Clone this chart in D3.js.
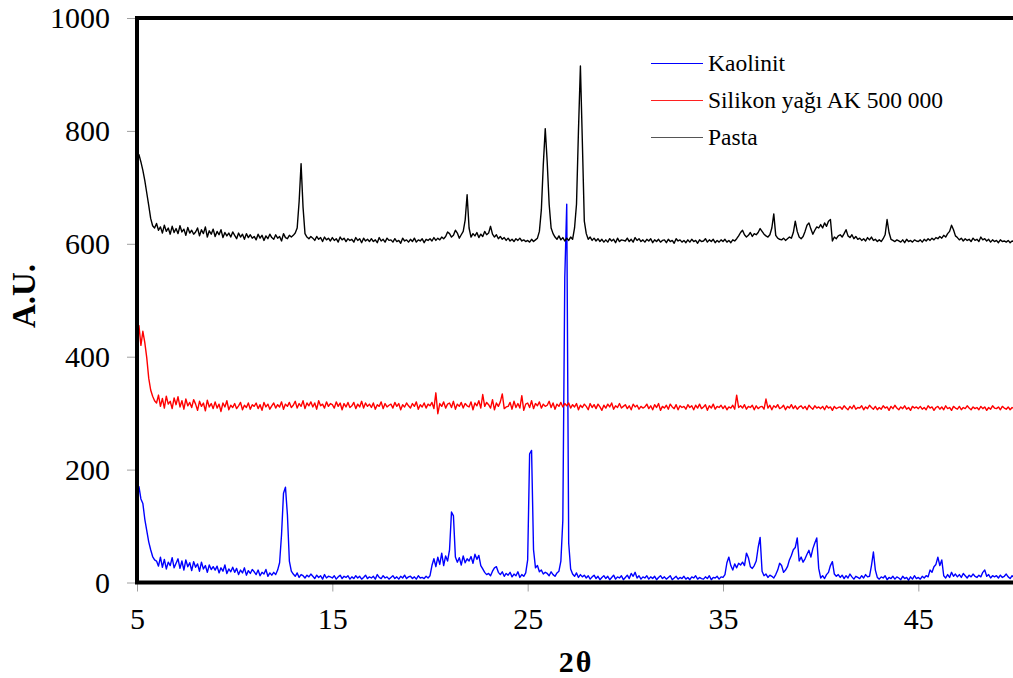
<!DOCTYPE html>
<html>
<head>
<meta charset="utf-8">
<script src="https://cdn.jsdelivr.net/npm/d3@7"></script>
<style>
  body { margin: 0; background: #fff; }
  text { font-family: "Liberation Serif", "Times New Roman", serif; fill: #000; }
</style>
</head>
<body>
<svg id="chart" width="1013" height="678"></svg>
<script>
// 2θ sampling, 0.1 deg steps
const twoTheta = [
  5,5.1,5.2,5.3,5.4,5.5,5.6,5.7,5.8,5.9, 6,6.1,6.2,6.3,6.4,6.5,6.6,6.7,6.8,6.9,
  7,7.1,7.2,7.3,7.4,7.5,7.6,7.7,7.8,7.9, 8,8.1,8.2,8.3,8.4,8.5,8.6,8.7,8.8,8.9,
  9,9.1,9.2,9.3,9.4,9.5,9.6,9.7,9.8,9.9, 10,10.1,10.2,10.3,10.4,10.5,10.6,10.7,10.8,10.9,
  11,11.1,11.2,11.3,11.4,11.5,11.6,11.7,11.8,11.9, 12,12.1,12.2,12.3,12.4,12.5,12.6,12.7,12.8,12.9,
  13,13.1,13.2,13.3,13.4,13.5,13.6,13.7,13.8,13.9, 14,14.1,14.2,14.3,14.4,14.5,14.6,14.7,14.8,14.9,
  15,15.1,15.2,15.3,15.4,15.5,15.6,15.7,15.8,15.9, 16,16.1,16.2,16.3,16.4,16.5,16.6,16.7,16.8,16.9,
  17,17.1,17.2,17.3,17.4,17.5,17.6,17.7,17.8,17.9, 18,18.1,18.2,18.3,18.4,18.5,18.6,18.7,18.8,18.9,
  19,19.1,19.2,19.3,19.4,19.5,19.6,19.7,19.8,19.9, 20,20.1,20.2,20.3,20.4,20.5,20.6,20.7,20.8,20.9,
  21,21.1,21.2,21.3,21.4,21.5,21.6,21.7,21.8,21.9, 22,22.1,22.2,22.3,22.4,22.5,22.6,22.7,22.8,22.9,
  23,23.1,23.2,23.3,23.4,23.5,23.6,23.7,23.8,23.9, 24,24.1,24.2,24.3,24.4,24.5,24.6,24.7,24.8,24.9,
  25,25.1,25.2,25.3,25.4,25.5,25.6,25.7,25.8,25.9, 26,26.1,26.2,26.3,26.4,26.5,26.6,26.7,26.8,26.9,
  27,27.1,27.2,27.3,27.4,27.5,27.6,27.7,27.8,27.9, 28,28.1,28.2,28.3,28.4,28.5,28.6,28.7,28.8,28.9,
  29,29.1,29.2,29.3,29.4,29.5,29.6,29.7,29.8,29.9, 30,30.1,30.2,30.3,30.4,30.5,30.6,30.7,30.8,30.9,
  31,31.1,31.2,31.3,31.4,31.5,31.6,31.7,31.8,31.9, 32,32.1,32.2,32.3,32.4,32.5,32.6,32.7,32.8,32.9,
  33,33.1,33.2,33.3,33.4,33.5,33.6,33.7,33.8,33.9, 34,34.1,34.2,34.3,34.4,34.5,34.6,34.7,34.8,34.9,
  35,35.1,35.2,35.3,35.4,35.5,35.6,35.7,35.8,35.9, 36,36.1,36.2,36.3,36.4,36.5,36.6,36.7,36.8,36.9,
  37,37.1,37.2,37.3,37.4,37.5,37.6,37.7,37.8,37.9, 38,38.1,38.2,38.3,38.4,38.5,38.6,38.7,38.8,38.9,
  39,39.1,39.2,39.3,39.4,39.5,39.6,39.7,39.8,39.9, 40,40.1,40.2,40.3,40.4,40.5,40.6,40.7,40.8,40.9,
  41,41.1,41.2,41.3,41.4,41.5,41.6,41.7,41.8,41.9, 42,42.1,42.2,42.3,42.4,42.5,42.6,42.7,42.8,42.9,
  43,43.1,43.2,43.3,43.4,43.5,43.6,43.7,43.8,43.9, 44,44.1,44.2,44.3,44.4,44.5,44.6,44.7,44.8,44.9,
  45,45.1,45.2,45.3,45.4,45.5,45.6,45.7,45.8,45.9, 46,46.1,46.2,46.3,46.4,46.5,46.6,46.7,46.8,46.9,
  47,47.1,47.2,47.3,47.4,47.5,47.6,47.7,47.8,47.9, 48,48.1,48.2,48.3,48.4,48.5,48.6,48.7,48.8,48.9,
  49,49.1,49.2,49.3,49.4,49.5,49.6,49.7,49.8,49.9, 50
];

// Kaolinit (blue)
const kaolinit = [
  162,170,148,140,112,92,72,58,46,40,   38,29,45,27,41,24,36,30,44,26,
  34,42,25,38,22,40,28,35,21,37,        27,33,20,36,24,30,18,31,23,28,
  22,29,17,26,20,31,16,24,19,27,        18,25,14,22,17,26,13,21,16,23,
  19,14,22,12,18,15,23,11,17,13,        18,14,22,35,85,158,169,120,38,20,
  15,11,17,9,14,12,8,13,10,15,          11,7,13,9,12,6,14,8,11,10,
  8,12,6,10,13,7,11,9,12,6,             10,7,12,8,11,6,9,13,7,10,
  8,11,6,14,9,7,12,8,10,6,              9,12,7,10,6,11,8,13,7,10,
  11,7,10,6,12,8,9,7,11,8,              12,30,42,28,45,32,52,30,47,38,
  58,125,118,45,36,44,31,47,35,42,      38,46,34,50,41,48,30,24,18,14,
  16,12,20,26,28,18,14,19,11,16,        13,18,10,15,12,19,9,14,11,17,
  40,228,234,58,26,30,19,22,15,18,      16,12,19,14,11,17,20,38,110,540,
  670,70,24,15,11,17,9,14,10,13,        8,12,6,10,13,7,11,5,9,12,
  7,11,5,9,13,6,10,8,12,5,              9,13,7,16,11,18,8,12,6,10,
  8,12,6,10,7,11,5,9,12,7,              10,6,9,12,5,8,11,6,9,7,
  11,6,9,5,10,8,12,6,9,7,               6,10,7,12,5,9,8,11,6,10,
  9,14,35,45,30,22,33,26,34,31,         36,30,52,44,28,25,30,38,62,80,
  20,12,15,9,13,11,8,14,22,34,          30,18,22,28,40,48,58,62,79,38,
  45,36,42,50,57,45,60,70,79,25,        8,12,7,14,18,30,37,15,11,14,
  9,13,7,12,8,15,10,6,11,9,             7,12,8,14,10,11,30,54,22,9,
  6,10,8,12,5,9,7,11,6,10,              8,5,11,7,9,4,10,6,12,7,
  9,6,11,8,12,10,22,18,28,32,           45,30,40,12,8,14,9,18,11,15,
  10,14,9,16,12,8,13,10,15,11,          9,13,10,18,22,11,14,8,12,10,
  12,8,13,9,11,15,10,7,12,9,            10
];

// Silikon yağı AK 500 000 (red)
const silikon = [
  448,455,420,445,425,398,362,341,330,322,  318,332,312,326,309,330,316,321,308,327,
  315,329,311,322,307,325,313,319,310,324,  316,305,321,312,318,304,323,311,317,308,
  320,309,316,303,318,311,322,306,314,310,  317,308,313,319,306,314,310,318,307,315,
  312,318,308,315,305,319,311,316,307,313,  318,309,315,311,320,307,316,312,319,310,
  314,321,309,317,312,322,308,318,313,320,  311,318,307,322,313,316,309,320,312,317,
  315,309,320,312,318,306,317,311,319,310,  313,319,308,316,311,321,309,318,312,316,
  310,318,307,315,312,320,308,317,311,314,  316,309,319,312,317,306,315,311,318,313,
  309,317,312,320,307,315,311,318,309,316,  313,319,308,336,299,317,312,320,309,316,
  318,310,321,307,316,312,319,309,317,313,  311,320,306,318,313,322,309,333,312,319,
  315,309,324,306,318,312,320,334,308,311,  312,319,307,321,310,317,309,331,305,316,
  318,310,322,308,317,313,320,309,316,312,  314,321,310,318,307,316,312,319,311,317,
  313,318,309,315,311,317,306,314,310,316,  312,306,317,310,315,308,316,311,305,314,
  309,316,311,318,307,313,310,317,309,312,  315,308,313,306,316,311,314,307,312,309,
  311,316,308,313,306,315,310,317,305,312,  309,314,307,316,311,308,315,306,313,310,
  312,307,315,310,313,306,314,309,316,308,  311,315,305,313,309,316,307,312,310,314,
  308,313,306,311,309,314,307,332,310,313,  309,315,307,312,310,314,306,313,308,311,
  312,307,325,309,314,306,313,310,315,308,  310,314,306,312,309,315,308,313,307,311,
  313,308,312,306,314,310,307,313,309,311,  308,312,306,313,309,311,305,312,308,310,
  311,307,313,309,306,312,308,314,307,310,  309,313,306,311,308,314,310,307,312,306,
  310,307,313,309,311,305,312,308,314,309,  306,311,308,313,307,310,305,312,309,311,
  308,312,307,310,306,313,309,311,305,310,  312,307,311,306,313,308,310,305,312,309,
  307,312,306,310,308,313,309,306,311,308,  310,306,312,308,311,305,310,307,313,309,
  308,311,306,312,309,307,311,306,310,308,  309
];

// Pasta (black)
const pasta = [
  748,758,745,730,712,690,668,645,632,628,  636,624,630,619,633,622,628,617,631,620,
  627,618,632,621,626,615,629,619,624,617,  621,628,614,625,618,630,612,623,617,626,
  613,622,616,625,611,620,614,619,612,621,  615,609,619,612,617,608,618,611,616,610,
  613,607,617,610,615,606,614,609,617,611,  608,616,610,613,605,618,611,609,615,612,
  615,619,628,675,742,665,618,612,609,613,  610,606,613,608,611,604,612,607,610,605,
  611,606,609,603,612,607,610,604,609,606,  608,603,611,606,609,602,610,605,608,604,
  609,604,607,602,611,605,608,603,610,606,  607,603,609,604,606,601,610,605,607,603,
  608,604,610,603,607,605,609,602,608,606,  609,605,611,606,610,607,612,609,613,621,
  618,612,615,624,619,610,616,622,642,687,  628,612,618,614,620,611,617,613,622,616,
  619,631,617,612,616,609,613,608,611,606,  610,605,608,604,609,606,610,605,607,604,
  606,603,608,604,607,610,622,660,740,804,  745,670,628,618,612,608,614,607,611,605,
  610,606,612,608,628,670,800,915,780,640,  618,608,612,606,610,605,609,604,608,603,
  607,603,609,605,608,602,610,604,607,606,  605,610,604,608,603,611,606,609,604,607,
  603,608,605,609,602,607,604,608,603,606,  607,602,608,604,606,601,609,605,607,603,
  606,602,607,603,608,604,606,601,607,604,  605,609,603,607,604,608,602,606,603,607,
  604,608,603,606,602,607,605,609,614,620,  624,616,612,615,620,613,618,616,620,627,
  622,617,614,612,616,628,653,615,610,608,  607,610,606,609,612,610,620,640,622,612,
  609,613,622,633,637,626,617,624,630,628,  634,628,637,631,640,643,605,612,609,614,
  616,612,618,625,614,611,616,609,613,608,  610,606,609,605,611,607,612,606,608,604,
  607,604,609,616,643,620,608,606,604,607,  605,603,607,602,608,604,606,603,607,605,
  604,607,603,608,605,609,606,610,607,611,  609,613,610,615,612,618,622,633,625,614,
  611,607,610,605,609,606,608,604,610,606,  608,604,612,607,609,605,608,603,607,604,
  606,602,607,604,605,603,606,602,605,604,  603
];

const seriesNames = ['Kaolinit', 'Silikon yağı AK 500 000', 'Pasta'];
const seriesColors = ['#0000ff', '#ff0000', '#000000'];
const legendColors = ['#0000ff', '#ff2020', '#555555'];
const xTicks = [5, 15, 25, 35, 45];
const yTicks = [0, 200, 400, 600, 800, 1000];

const svg = d3.select('#chart');

// plot box (right edge runs past the window, as in the original)
const x = d3.scaleLinear().domain([5, 50]).range([137, 1016]);
const y = d3.scaleLinear().domain([0, 1000]).range([582.5, 18]);

svg.append('clipPath')
  .attr('id', 'plotClip')
  .append('rect')
  .attr('x', 137).attr('y', 18)
  .attr('width', 1016 - 137).attr('height', 582.5 - 18);

// axes
const yAxis = svg.append('g')
  .attr('transform', 'translate(137,0)')
  .call(d3.axisLeft(y).tickValues(yTicks).tickFormat(d3.format('d')).tickSize(10).tickPadding(17));

const xAxis = svg.append('g')
  .attr('transform', 'translate(0,582.5)')
  .call(d3.axisBottom(x).tickValues(xTicks).tickFormat(d3.format('d')).tickSize(9).tickPadding(16));

[yAxis, xAxis].forEach(g => {
  g.attr('font-family', null).attr('font-size', null);
  g.select('.domain').remove();
  g.selectAll('.tick line').attr('stroke', '#a0a0a0');
  g.selectAll('.tick text')
    .style('font-family', '"Liberation Serif", "Times New Roman", serif')
    .style('font-size', '30px')
    .attr('fill', '#000');
});

// series
const line = d3.line()
  .x((d, i) => x(twoTheta[i]))
  .y(d => y(d));

const plot = svg.append('g').attr('clip-path', 'url(#plotClip)');
const allSeries = [kaolinit, silikon, pasta];

allSeries.forEach((vals, k) => {
  plot.append('path')
    .datum(vals)
    .attr('fill', 'none')
    .attr('stroke', seriesColors[k])
    .attr('stroke-width', 1.4)
    .attr('stroke-linejoin', 'round')
    .attr('d', line);
});

// frame
svg.append('rect')
  .attr('x', 137).attr('y', 18)
  .attr('width', 1016 - 137).attr('height', 582.5 - 18)
  .attr('fill', 'none')
  .attr('stroke', '#000')
  .attr('stroke-width', 4);

// legend
const legend = svg.append('g');
seriesNames.forEach((name, k) => {
  const ly = 63 + k * 37;
  legend.append('line')
    .attr('x1', 651).attr('x2', 703)
    .attr('y1', ly + 0.5).attr('y2', ly + 0.5)
    .attr('stroke', legendColors[k])
    .attr('stroke-width', 1);
  legend.append('text')
    .attr('x', 708).attr('y', ly)
    .attr('dy', '0.35em')
    .style('font-size', '23.5px')
    .text(name);
});

// axis titles
svg.append('text')
  .attr('transform', 'translate(35,296) rotate(-90)')
  .attr('text-anchor', 'middle')
  .style('font-size', '33px')
  .style('font-weight', 'bold')
  .text('A.U.');

svg.append('text')
  .attr('x', 576).attr('y', 672)
  .attr('text-anchor', 'middle')
  .style('font-size', '30px')
  .style('font-weight', 'bold')
  .style('letter-spacing', '2px')
  .text('2θ');
</script>
</body>
</html>
